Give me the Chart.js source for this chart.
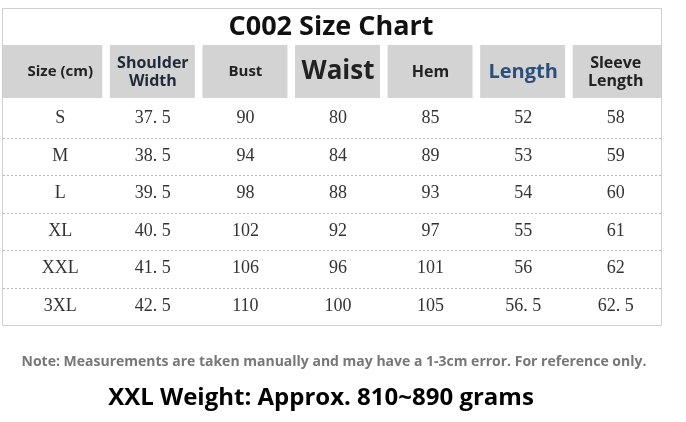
<!DOCTYPE html>
<html><head><meta charset="utf-8">
<script src="https://cdn.jsdelivr.net/npm/chart.js@4"></script>
<style>html,body{margin:0;background:#fff}#wrap{width:686px;height:422px}</style>
</head><body><div id="wrap"><canvas id="c"></canvas></div>
<script>
// table contents
const columns = ['Size (cm)', 'Shoulder Width', 'Bust', 'Waist', 'Hem', 'Length', 'Sleeve Length'];
const sizes = ['S', 'M', 'L', 'XL', 'XXL', '3XL'];
const shoulder = [37.5, 38.5, 39.5, 40.5, 41.5, 42.5];
const bust = [90, 94, 98, 102, 106, 110];
const waist = [80, 84, 88, 92, 96, 100];
const hem = [85, 89, 93, 97, 101, 105];
const length = [52, 53, 54, 55, 56, 56.5];
const sleeve = [58, 59, 60, 61, 62, 62.5];

const fmt = v => typeof v === 'number' ? String(v).replace('.', '. ') : v;
const cols = [sizes, shoulder, bust, waist, hem, length, sleeve];

const headStyle = [
  {lines: ['Size (cm)'], font: 'bold 15px "Open Sans"', color: '#222'},
  {lines: ['Shoulder', 'Width'], font: 'bold 16px "Open Sans"', color: '#1f2a3a'},
  {lines: ['Bust'], font: 'bold 15px "Open Sans"', color: '#222'},
  {lines: ['Waist'], font: 'bold 26px "Open Sans"', color: '#222'},
  {lines: ['Hem'], font: 'bold 16px "Open Sans"', color: '#222'},
  {lines: ['Length'], font: 'bold 20px "Open Sans"', color: '#2b4f7c'},
  {lines: ['Sleeve', 'Length'], font: 'bold 16px "Open Sans"', color: '#222'}
];

const tablePlugin = {
  id: 'table',
  beforeDatasetsDraw(chart) {
    const {ctx, chartArea: a, scales} = chart;
    ctx.save();
    // outer frame
    ctx.strokeStyle = '#cfcfcf';
    ctx.lineWidth = 1;
    ctx.strokeRect(2.5, 8.5, 659, a.bottom - 8);
    // header cells
    ctx.fillStyle = '#d3d3d3';
    columns.forEach((c, i) => {
      const x = scales.x.getPixelForValue(i);
      const l = i === 0 ? 3 : x - 43, r = i === 6 ? 661 : x + 42;
      ctx.fillRect(l, 45, r - l, 53);
    });
    // row separators
    ctx.setLineDash([2, 2]);
    ctx.strokeStyle = '#bbb';
    for (let i = 1; i < sizes.length; i++) {
      const y = (scales.y.getPixelForValue(i - 1) + scales.y.getPixelForValue(i)) / 2;
      ctx.beginPath(); ctx.moveTo(3, Math.round(y) + .5); ctx.lineTo(661, Math.round(y) + .5); ctx.stroke();
    }
    ctx.setLineDash([]);
    ctx.textAlign = 'center';
    ctx.textBaseline = 'middle';
    // title
    ctx.fillStyle = '#111';
    ctx.font = 'bold 27px "Open Sans"';
    ctx.fillText('C002 Size Chart', 331, 27);
    // header text
    headStyle.forEach((h, i) => {
      const x = scales.x.getPixelForValue(i);
      ctx.font = h.font; ctx.fillStyle = h.color;
      const lh = 18, y0 = 72 - (h.lines.length - 1) * lh / 2;
      h.lines.forEach((t, k) => ctx.fillText(t, x, y0 + k * lh));
    });
    // notes
    ctx.fillStyle = '#777';
    ctx.font = 'bold 14px "Open Sans"';
    ctx.fillText('Note: Measurements are taken manually and may have a 1-3cm error. For reference only.', 334, 362);
    ctx.fillStyle = '#000';
    ctx.font = 'bold 24px "Open Sans"';
    ctx.fillText('XXL Weight: Approx. 810~890 grams', 321, 398);
    ctx.restore();
  },
  afterDatasetsDraw(chart) {
    const {ctx} = chart;
    ctx.save();
    ctx.textAlign = 'center';
    ctx.textBaseline = 'middle';
    ctx.fillStyle = '#333';
    ctx.font = '18px "Liberation Serif"';
    chart.data.datasets.forEach((ds, i) => {
      chart.getDatasetMeta(i).data.forEach((pt, j) => {
        ctx.fillText(fmt(cols[i][j]), pt.x, pt.y);
      });
    });
    ctx.restore();
  }
};

new Chart(document.getElementById('c'), {
  type: 'scatter',
  data: {
    datasets: cols.map((col, i) => ({
      label: columns[i],
      data: col.map((v, j) => ({x: i, y: j})),
      pointRadius: 0
    }))
  },
  options: {
    responsive: true, maintainAspectRatio: false, animation: false,
    layout: {padding: {left: 14, right: 24, top: 100, bottom: 97}},
    scales: {
      x: {type: 'linear', min: -0.5, max: 6.5, display: false},
      y: {type: 'linear', min: -0.5, max: 5.5, reverse: true, display: false}
    },
    plugins: {legend: {display: false}, tooltip: {enabled: false}}
  },
  plugins: [tablePlugin]
});
</script></body></html>
